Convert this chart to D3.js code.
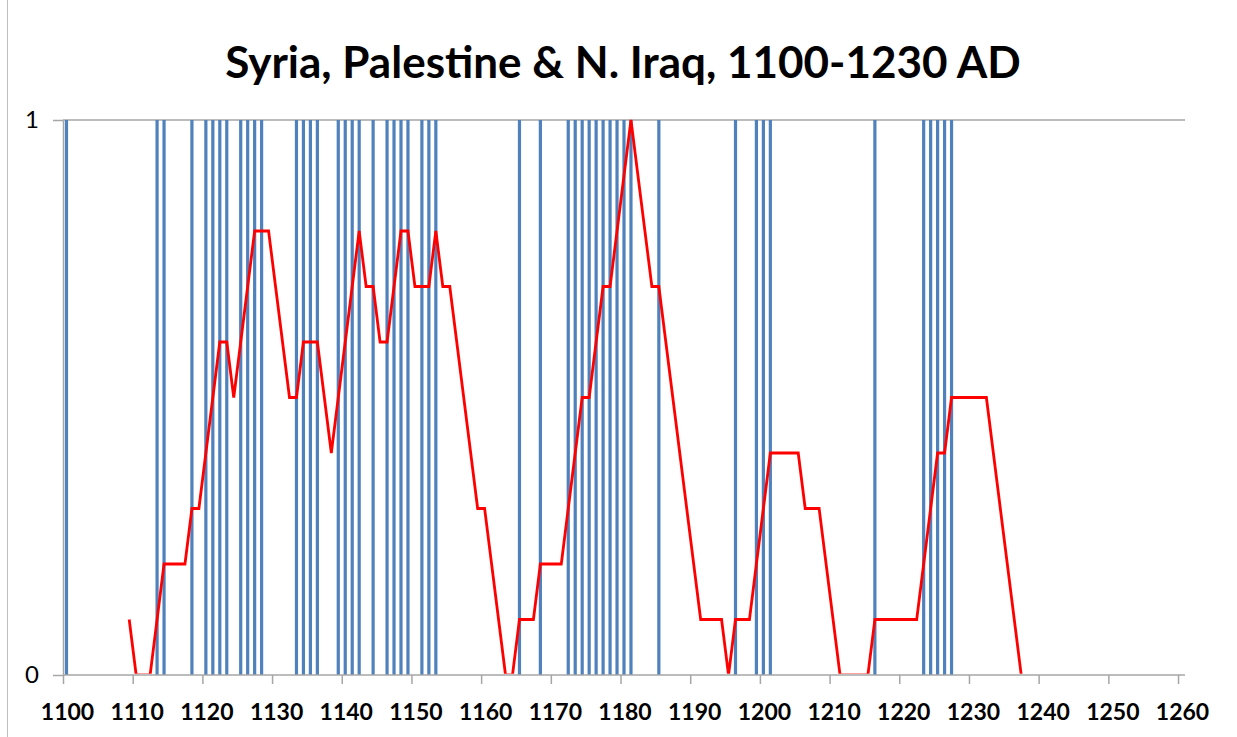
<!DOCTYPE html>
<html>
<head>
<meta charset="utf-8">
<script src="https://cdn.jsdelivr.net/npm/d3@7"></script>
<style>
  body { margin: 0; background: #fff; }
  svg { display: block; }
</style>
</head>
<body>
<svg id="chart" width="1237" height="737"></svg>
<script>
// Syria, Palestine & N. Iraq -- event years with a 10-year running share

var chartTitle = "Syria, Palestine & N. Iraq, 1100-1230 AD";

// years with an event (blue bars, value 1)
var eventYears = [1100, 1113, 1114, 1118, 1120, 1121, 1122, 1123, 1125, 1126,
  1127, 1128, 1133, 1134, 1135, 1136, 1139, 1140, 1141, 1142, 1144, 1146,
  1147, 1148, 1149, 1151, 1152, 1153, 1165, 1168, 1172, 1173, 1174, 1175,
  1176, 1177, 1178, 1179, 1180, 1181, 1185, 1196, 1199, 1200, 1201, 1216,
  1223, 1224, 1225, 1226, 1227];

// red line, one value a year starting at lineStart
var lineStart = 1109;
var lineValues = [
  0.1, 0, 0, 0, 0.1, 0.2, 0.2, 0.2, 0.2, 0.3,      // 1109-1118
  0.3, 0.4, 0.5, 0.6, 0.6, 0.5, 0.6, 0.7, 0.8, 0.8, // 1119-1128
  0.8, 0.7, 0.6, 0.5, 0.5, 0.6, 0.6, 0.6, 0.5, 0.4, // 1129-1138
  0.5, 0.6, 0.7, 0.8, 0.7, 0.7, 0.6, 0.6, 0.7, 0.8, // 1139-1148
  0.8, 0.7, 0.7, 0.7, 0.8, 0.7, 0.7, 0.6, 0.5, 0.4, // 1149-1158
  0.3, 0.3, 0.2, 0.1, 0, 0, 0.1, 0.1, 0.1, 0.2,     // 1159-1168
  0.2, 0.2, 0.2, 0.3, 0.4, 0.5, 0.5, 0.6, 0.7, 0.7, // 1169-1178
  0.8, 0.9, 1.0, 0.9, 0.8, 0.7, 0.7, 0.6, 0.5, 0.4, // 1179-1188
  0.3, 0.2, 0.1, 0.1, 0.1, 0.1, 0, 0.1, 0.1, 0.1,   // 1189-1198
  0.2, 0.3, 0.4, 0.4, 0.4, 0.4, 0.4, 0.3, 0.3, 0.3, // 1199-1208
  0.2, 0.1, 0, 0, 0, 0, 0, 0.1, 0.1, 0.1,           // 1209-1218
  0.1, 0.1, 0.1, 0.1, 0.2, 0.3, 0.4, 0.4, 0.5, 0.5, // 1219-1228
  0.5, 0.5, 0.5, 0.5, 0.4, 0.3, 0.2, 0.1, 0         // 1229-1237
];

var xTicks = d3.range(1100, 1261, 10);
var yTicks = [0, 1];

var margin = {top: 120, right: 52, bottom: 62, left: 63};
var width = 1237 - margin.left - margin.right,
    height = 737 - margin.top - margin.bottom;

var svg = d3.select("#chart");

// chart area border on the left
svg.append("line")
  .attr("x1", 7.5).attr("x2", 7.5)
  .attr("y1", 0).attr("y2", 737)
  .attr("stroke", "#bfbfbf").attr("stroke-width", 1);

svg.append("text")
  .attr("x", 623).attr("y", 78)
  .attr("text-anchor", "middle")
  .style("font-family", "Lato, 'Open Sans', sans-serif")
  .style("font-weight", "bold")
  .style("font-size", "44px")
  .style("fill", "#000")
  .text(chartTitle);

var g = svg.append("g")
  .attr("transform", "translate(" + margin.left + "," + margin.top + ")");

// category axis: each year is a slot, ticks sit between slots
var x = d3.scaleLinear().domain([1100, 1261]).range([0, width]);
var y = d3.scaleLinear().domain([0, 1]).range([height, 0]);

g.append("defs").append("clipPath").attr("id", "plotClip")
  .append("rect")
  .attr("x", 0).attr("y", -3)
  .attr("width", width).attr("height", height + 1.7);

// top gridline
g.append("line")
  .attr("x1", 0).attr("x2", width)
  .attr("y1", y(1)).attr("y2", y(1))
  .attr("stroke", "#a6a6a6").attr("stroke-width", 1.5);

// blue event bars
var barW = 3.2;
g.append("g").selectAll("rect")
  .data(eventYears)
  .enter().append("rect")
  .attr("x", function (d) { return x(d + 0.5) - barW / 2; })
  .attr("y", y(1))
  .attr("width", barW)
  .attr("height", function (d) { return y(0) - y(1); })
  .attr("fill", "#4f81bd");

// red running line
var linePts = lineValues.map(function (v, i) {
  return {year: lineStart + i, value: v};
});

var line = d3.line()
  .x(function (d) { return x(d.year + 0.5); })
  .y(function (d) { return y(d.value); });

g.append("path")
  .datum(linePts)
  .attr("clip-path", "url(#plotClip)")
  .attr("d", line)
  .attr("fill", "none")
  .attr("stroke", "#ff0000")
  .attr("stroke-width", 2.8)
  .attr("stroke-linejoin", "miter");

// x axis
var xAxis = g.append("g")
  .attr("transform", "translate(0," + height + ")")
  .call(d3.axisBottom(x).tickValues(xTicks).tickFormat(d3.format("d"))
    .tickSize(9).tickSizeOuter(0).tickPadding(20));

xAxis.select(".domain").attr("stroke", "#a6a6a6").attr("stroke-width", 1.5)
  .attr("d", "M0,0H" + width);
xAxis.selectAll(".tick line").attr("stroke", "#a6a6a6").attr("stroke-width", 1.5);
xAxis.selectAll(".tick text")
  .attr("dx", 4)
  .style("font-family", "Lato, 'Open Sans', sans-serif")
  .style("font-weight", "bold")
  .style("font-size", "23px")
  .style("fill", "#000");

// y axis
var yAxis = g.append("g")
  .call(d3.axisLeft(y).tickValues(yTicks).tickFormat(d3.format("d"))
    .tickSize(10).tickSizeOuter(0).tickPadding(14));

yAxis.select(".domain").attr("stroke", "#a6a6a6").attr("stroke-width", 1.5);
yAxis.selectAll(".tick line").attr("stroke", "#a6a6a6").attr("stroke-width", 1.5);
yAxis.selectAll(".tick text")
  .style("font-family", "Lato, 'Open Sans', sans-serif")
  .style("font-size", "24px")
  .style("fill", "#000");
</script>
</body>
</html>
